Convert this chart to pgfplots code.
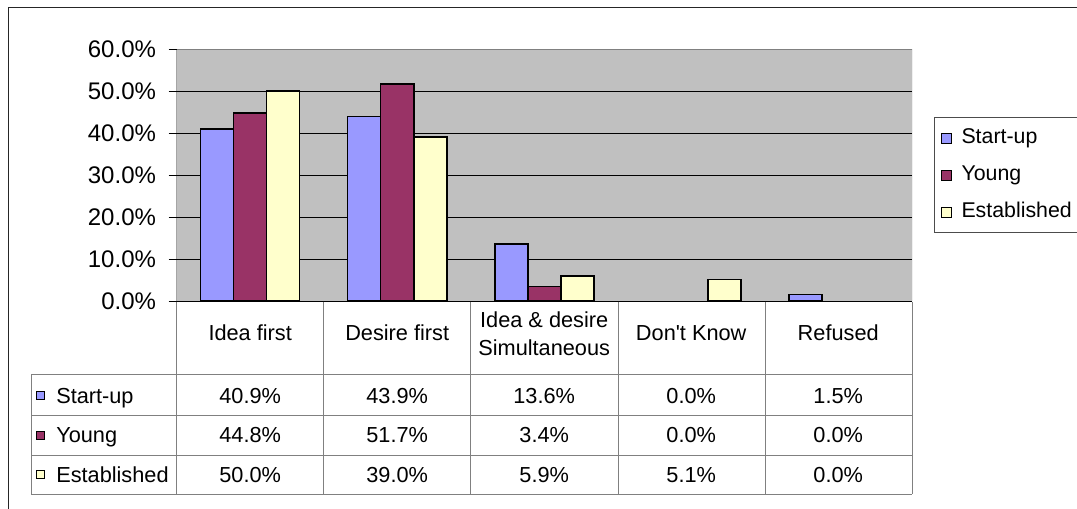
\documentclass[border=0pt]{standalone}
\usepackage{fontspec}
\setmainfont{Liberation Sans}
\usepackage{pgfplots}
\usepackage{pgfplotstable}
\pgfplotsset{compat=1.18}

\definecolor{startup}{HTML}{9999FF}
\definecolor{young}{HTML}{993366}
\definecolor{estab}{HTML}{FFFFCC}
\definecolor{plotbg}{HTML}{C0C0C0}
\definecolor{rulegray}{HTML}{808080}

% Share of firms by which came first: the business idea or the desire to start
\pgfplotstableread{
cat startup young established
0   40.9    44.8  50.0
1   43.9    51.7  39.0
2   13.6    3.4   5.9
3   0.0     0.0   5.1
4   1.5     0.0   0.0
}\origins

\begin{document}
\begin{tikzpicture}
\path[use as bounding box] (0,0) rectangle (807.75pt,381pt);
\clip (0,0) rectangle (807.75pt,381pt);

\begin{axis}[
  at={(132.5pt,155.25pt)}, anchor=south west,
  scale only axis, width=551.5pt, height=189pt,
  xmin=-0.5, xmax=4.5, ymin=0, ymax=60,
  xtick=\empty,
  ytick={0,10,...,60},
  ytick pos=left,
  tick align=outside,
  major tick length=6pt,
  ytick style={black, line width=0.75pt},
  yticklabel={\pgfmathprintnumber[fixed,fixed zerofill,precision=1,assume math mode=true]{\tick}\%},
  yticklabel style={font=\fontsize{18}{20}\selectfont, xshift=-6pt},
  axis line style={draw=none},
  axis background/.style={fill=plotbg},
  ymajorgrids,
  major grid style={black, line width=0.75pt},
  ybar=0pt, bar width=0.2245,
  % empty categories get no bar at all
  unbounded coords=discard,
  y filter/.expression={y==0 ? nan : y},
  every axis plot/.append style={draw=black, line width=1.1pt},
  legend image code/.code={\draw[#1, line width=0.75pt] (0pt,-3.75pt) rectangle (7.5pt,3.75pt);},
  legend style={at={(1.0299,0.7302)}, anchor=north west,
    draw=black!70, line width=0.75pt,
    font=\fontsize{16}{19}\selectfont,
    inner xsep=5pt, inner ysep=5.5pt,
    row sep=7.75pt, column sep=5pt,
    nodes={inner sep=2pt, text height=12pt, text depth=4pt},
    cells={anchor=west}},
]
\addplot[fill=startup] table[x=cat, y=startup] {\origins};
\addlegendentry{Start-up}
\addplot[fill=young] table[x=cat, y=young] {\origins};
\addlegendentry{Young}
\addplot[fill=estab] table[x=cat, y=established] {\origins};
\addlegendentry{Established\rule{40pt}{0pt}}
% plot-area border: dark axes on the left and bottom, grey frame above and right
\draw[rulegray, line width=0.75pt] (rel axis cs:0,1) -- (rel axis cs:1,1) -- (rel axis cs:1,0);
\draw[black, line width=0.75pt] (rel axis cs:0,1) -- (rel axis cs:0,0) -- (rel axis cs:1,0);
\end{axis}

% data table beneath the plot, in pixel-like units measured from the top left
\begin{scope}[shift={(0pt,381pt)}, x=0.75pt, y=-0.75pt]
  % outer frame of the chart
  \draw[black!85, line width=0.75pt] (8.3,540) -- (8.3,7.5) -- (1100,7.5);
  % grid of the table
  \foreach \yy in {374,415,455,494}
    \draw[rulegray, line width=0.75pt] (31,\yy) -- (912,\yy);
  \draw[rulegray, line width=0.75pt] (31,374) -- (31,494);
  \foreach \xx in {176.7,323.8,470.9,618,765,912}
    \draw[rulegray, line width=0.75pt] (\xx,301.5) -- (\xx,494);
  % category headers
  \begin{scope}[every node/.style={font=\fontsize{16.3}{21}\selectfont, inner sep=0pt, anchor=base, align=center}]
    \node at (250.2,340.7) {Idea first};
    \node at (397.2,340.7) {Desire first};
    \node at (544.2,355) {Idea \& desire\\Simultaneous};
    \node at (691.2,340.7) {Don\textquotesingle t Know};
    \node at (838.2,340.7) {Refused};
  \end{scope}
  % series keys and values
  \foreach \col/\lab/\fc/\base [count=\i] in {startup/Start-up/startup/403,young/Young/young/442.5,established/Established/estab/482}{
    \draw[fill=\fc, draw=black, line width=0.75pt] (36,\base-11.5) rectangle (44,\base-3.5);
    \node[font=\fontsize{16.3}{19}\selectfont, inner sep=0pt, anchor=base west] at (56,\base) {\lab};
    \foreach \r in {0,...,4}{
      \pgfplotstablegetelem{\r}{\col}\of\origins
      \node[font=\fontsize{16.3}{19}\selectfont, inner sep=0pt, anchor=base]
        at ({250.2+147*\r},\base)
        {\pgfmathprintnumber[fixed,fixed zerofill,precision=1,assume math mode=true]{\pgfplotsretval}\%};
    }
  }
\end{scope}
\end{tikzpicture}
\end{document}
